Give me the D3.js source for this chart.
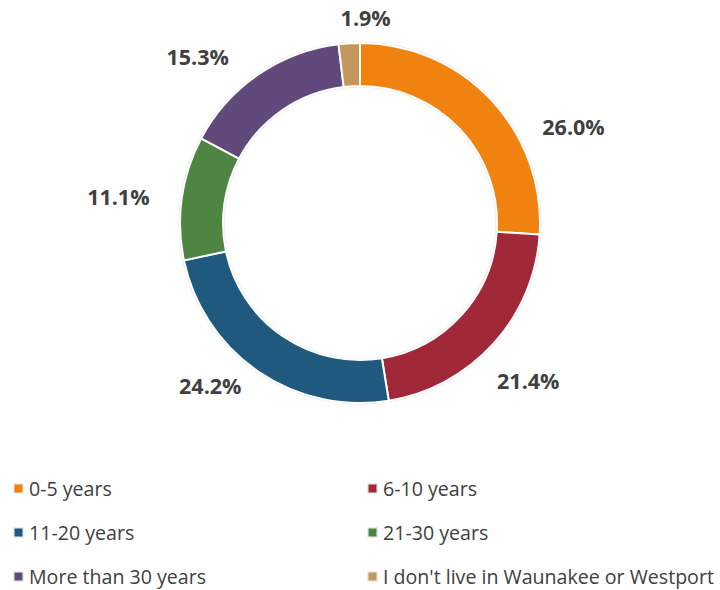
<!DOCTYPE html>
<html>
<head>
<meta charset="utf-8">
<script src="https://cdn.jsdelivr.net/npm/d3@7"></script>
<style>
  body { margin: 0; background: #fff; }
  svg { display: block; font-family: "Open Sans", "Liberation Sans", Arial, sans-serif; }
</style>
</head>
<body>
<script>
// categories and shares (percent)
var categories = ["0-5 years", "6-10 years", "11-20 years", "21-30 years", "More than 30 years", "I don't live in Waunakee or Westport"];
var values = [26.0, 21.4, 24.2, 11.1, 15.3, 1.9];
var colors = ["#F0820F", "#A02838", "#1F5A7E", "#4E8542", "#62497B", "#C4985C"];

var svgWidth = 720;
var svgHeight = 590;
var cx = 360, cy = 223;
var outerR = 180, innerR = 137;

// label placement: angle nudge (deg) and distance from centre
var labelNudge = [19, 1, 8, -2, -10, 5];
var labelDist = [234, 231, 222, 243, 232, 205];

var svg = d3.select("body")
  .append("svg")
  .attr("width", svgWidth)
  .attr("height", svgHeight);

var chart = svg.append("g")
  .attr("transform", "translate(" + cx + "," + cy + ")");

var pie = d3.pie().sort(null).value(function(d) { return d; });
var arcs = pie(values);

var arc = d3.arc().innerRadius(innerR).outerRadius(outerR);

// faint shadow ring
chart.append("path")
  .attr("d", d3.arc().innerRadius(innerR - 1.5).outerRadius(outerR + 1.5)({ startAngle: 0, endAngle: 2 * Math.PI }))
  .attr("fill", "#e4e4e4");

chart.selectAll("path.slice")
  .data(arcs)
  .enter()
  .append("path")
  .attr("class", "slice")
  .attr("d", arc)
  .attr("fill", function(d, i) { return colors[i]; })
  .attr("stroke", "#fff")
  .attr("stroke-width", 2);

chart.selectAll("text.lbl")
  .data(arcs)
  .enter()
  .append("text")
  .attr("class", "lbl")
  .attr("x", function(d, i) {
    var a = (d.startAngle + d.endAngle) / 2 + labelNudge[i] * Math.PI / 180;
    return labelDist[i] * Math.sin(a);
  })
  .attr("y", function(d, i) {
    var a = (d.startAngle + d.endAngle) / 2 + labelNudge[i] * Math.PI / 180;
    return -labelDist[i] * Math.cos(a);
  })
  .attr("dy", "0.35em")
  .attr("text-anchor", "middle")
  .attr("font-size", "21.5px")
  .attr("font-weight", "bold")
  .attr("fill", "#404040")
  .text(function(d) { return d.data.toFixed(1) + "%"; });

// legend, two columns
var legend = svg.append("g");
var item = legend.selectAll("g")
  .data(categories)
  .enter()
  .append("g")
  .attr("transform", function(d, i) {
    var col = i % 2, row = Math.floor(i / 2);
    return "translate(" + (13 + col * 354) + "," + (489 + row * 44) + ")";
  });

item.append("rect")
  .attr("x", 0)
  .attr("y", -6)
  .attr("width", 11)
  .attr("height", 11)
  .attr("fill", "#ececec");

item.append("rect")
  .attr("x", 1.5)
  .attr("y", -4.5)
  .attr("width", 8)
  .attr("height", 8)
  .attr("fill", function(d, i) { return colors[i]; });

item.append("text")
  .attr("x", 16)
  .attr("y", 0)
  .attr("dy", "0.35em")
  .attr("font-size", "19.6px")
  .attr("fill", "#404040")
  .text(function(d) { return d; });
</script>
</body>
</html>
